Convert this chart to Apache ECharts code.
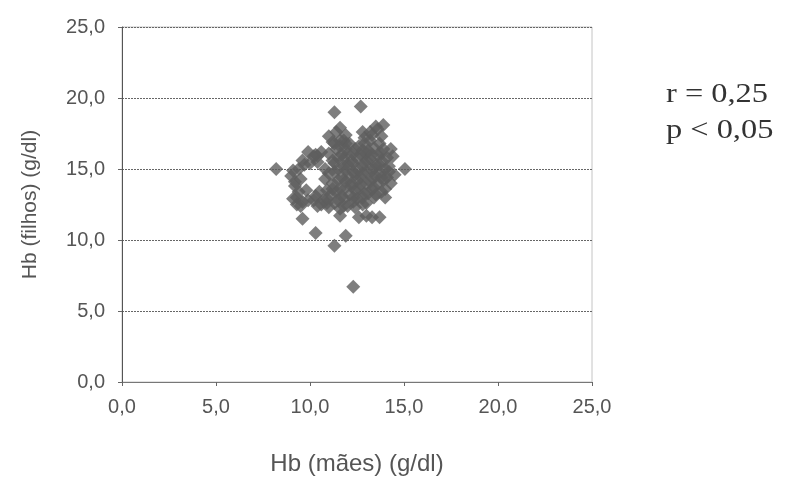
<!DOCTYPE html>
<html><head><meta charset="utf-8">
<script src="https://cdn.jsdelivr.net/npm/echarts@6/dist/echarts.min.js"></script>
<style>html,body{margin:0;padding:0;background:#fff}#c{width:799px;height:481px}</style>
</head><body><div id="c"></div>
<script>
const xTicks = [0, 5, 10, 15, 20, 25];
const yTicks = [0, 5, 10, 15, 20, 25];
const xName = 'Hb (mães) (g/dl)';
const yName = 'Hb (filhos) (g/dl)';
const statR = 'r = 0,25';
const statP = 'p < 0,05';
// Hb mothers (x) and Hb children (y)
const hbMaes = [
  9.0, 9.2, 9.3, 9.5, 9.4, 9.5, 9.8, 9.9, 10.0, 10.3, 10.4, 9.9, 10.6, 10.8, 10.7, 10.9, 9.1, 9.6,
  11.0, 11.1, 11.2, 11.3, 11.2, 11.4, 11.0, 11.4, 11.5, 11.6, 11.7, 11.8, 11.7, 11.9,
  12.0, 12.1, 12.2, 12.3, 12.2, 12.4, 12.5, 12.6, 12.7, 12.8, 12.7, 12.9, 12.9,
  13.0, 13.1, 13.2, 13.3, 13.2, 13.4, 13.6, 13.9, 13.5, 13.6, 13.7, 13.8, 13.9, 13.3,
  14.0, 14.1, 14.2, 14.4, 14.5, 15.05, 11.6, 12.4, 10.4, 11.8, 13.0,
  9.2, 9.4, 9.6, 9.7, 9.1, 9.3, 10.2, 10.5, 10.6, 10.2, 10.4, 10.8,
  11.3, 11.4, 11.5, 11.5, 11.5, 11.6, 11.2, 11.8, 11.9, 12.0, 12.0, 12.0, 12.1,
  12.3, 12.4, 12.5, 12.5, 12.5, 12.6, 12.8, 12.9, 13.0, 13.0, 13.0, 13.1, 13.2,
  13.4, 13.4, 13.5, 13.5, 13.6, 13.7, 13.8, 13.8, 13.9, 14.0, 14.1, 14.3, 14.3,
  10.9, 11.8, 12.8, 11.9, 11.6, 13.5, 13.2, 11.6,
  10.9, 11.2, 11.0, 11.3, 11.0, 11.3, 11.7, 11.9, 11.9, 11.8, 11.9, 12.3, 12.2, 12.4, 12.3, 12.3,
  12.8, 12.7, 12.8, 12.9, 12.8, 13.3, 13.3, 13.4, 13.3, 13.8, 13.7, 13.8, 14.2, 14.0, 10.3,
  11.3, 12.7, 8.2, 9.6, 10.3, 11.9, 11.3, 12.3, 11.6, 12.6, 13.0, 13.3, 13.7
];
const hbFilhos = [
  14.5, 13.8, 13.0, 12.4, 15.0, 14.3, 13.5, 12.8, 15.4, 13.1, 12.4, 16.2, 16.2, 15.0, 12.8, 13.5, 12.9, 15.6,
  12.3, 13.2, 14.0, 14.8, 15.6, 16.4, 17.3, 17.6, 12.8, 13.6, 14.4, 15.2, 16.0, 16.8,
  12.4, 13.2, 14.0, 14.8, 15.6, 16.4, 12.9, 13.6, 14.4, 15.2, 16.0, 16.8, 17.2,
  12.6, 13.3, 14.1, 14.9, 15.7, 16.5, 17.8, 18.1, 13.2, 14.0, 14.8, 15.6, 16.4, 17.4,
  13.6, 14.4, 15.2, 15.9, 14.6, 15.0, 12.2, 12.3, 15.9, 17.0, 16.1,
  14.1, 13.4, 12.7, 15.3, 14.9, 12.5, 12.8, 13.4, 12.5, 15.9, 15.5, 14.3,
  12.6, 13.4, 14.2, 15.0, 15.8, 16.6, 16.9, 12.9, 13.7, 14.5, 15.3, 16.1, 16.8,
  12.7, 13.5, 14.2, 15.0, 15.8, 16.6, 12.5, 13.3, 14.0, 14.8, 15.6, 16.3, 17.0,
  13.0, 13.7, 14.5, 15.3, 16.0, 16.8, 17.3, 13.4, 14.2, 15.0, 15.8, 14.0, 16.4,
  12.6, 12.4, 17.6, 17.4, 17.9, 18.0, 17.6, 17.0,
  12.9, 13.6, 14.7, 15.4, 16.1, 16.8, 13.1, 14.1, 14.9, 15.7, 16.4, 13.0, 13.8, 14.6, 15.4, 16.1,
  13.0, 13.9, 14.7, 15.4, 16.3, 13.6, 14.4, 15.1, 16.0, 14.4, 15.3, 16.1, 14.8, 13.0, 16.0,
  19.0, 19.4, 15.0, 11.5, 10.5, 10.3, 9.6, 6.7, 11.7, 11.6, 11.7, 11.6, 11.6
];
const points = hbMaes.map((x, i) => [x, hbFilhos[i]]);
const fmt = v => v.toFixed(1).replace('.', ',');
const chart = echarts.init(document.getElementById('c'), null, {renderer: 'canvas'});
chart.setOption({
  backgroundColor: '#fff',
  animation: false,
  grid: {left: 122, right: 207, top: 27, bottom: 98, show: true, borderColor: '#c4c4c4', borderWidth: 1, backgroundColor: 'transparent'},
  xAxis: {
    type: 'value', min: xTicks[0], max: xTicks[xTicks.length - 1], interval: 5,
    name: xName, nameLocation: 'middle', nameGap: 70,
    nameTextStyle: {fontFamily: 'Liberation Sans', fontSize: 24, color: '#555'},
    axisLine: {show: true, lineStyle: {color: '#777', width: 1}},
    axisTick: {show: true, length: 4, lineStyle: {color: '#666'}},
    axisLabel: {formatter: fmt, fontFamily: 'Liberation Sans', fontSize: 20, color: '#555', margin: 15},
    splitLine: {show: false}
  },
  yAxis: {
    type: 'value', min: yTicks[0], max: yTicks[yTicks.length - 1], interval: 5,
    name: yName, nameLocation: 'middle', nameGap: 81, nameRotate: 90,
    nameTextStyle: {fontFamily: 'Liberation Sans', fontSize: 21, color: '#555'},
    axisLine: {show: true, lineStyle: {color: '#555', width: 1}},
    axisTick: {show: true, length: 4, lineStyle: {color: '#666'}},
    axisLabel: {formatter: fmt, fontFamily: 'Liberation Sans', fontSize: 20, color: '#555', margin: 17},
    splitLine: {show: true, lineStyle: {color: '#666', type: [2, 1], width: 1}}
  },
  series: [{
    type: 'scatter', data: points, symbol: 'diamond', symbolSize: 14,
    itemStyle: {color: '#5e5e5e'}
  }],
  graphic: [
    {type: 'text', x: 666, y: 95, scaleX: 1.2, style: {text: statR, font: '27px "Liberation Serif"', fill: '#333', verticalAlign: 'middle'}},
    {type: 'text', x: 666, y: 131, scaleX: 1.2, style: {text: statP, font: '27px "Liberation Serif"', fill: '#333', verticalAlign: 'middle'}}
  ]
});
</script></body></html>
